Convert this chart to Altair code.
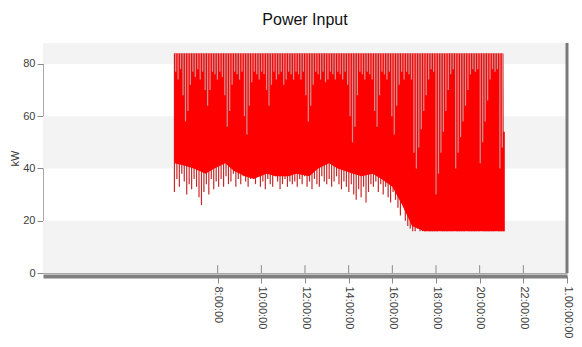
import altair as alt
import pandas as pd

# ---------------- data ----------------
title_text = "Power Input"
y_title = "kW"

# compressor cycles: one vertical stroke per cycle, from trough up to peak
cycle_start_hour = 6.02
cycle_minutes = 6.75
peak_kw = 84.0
last_peak_kw = 54.0
trough_kw = [
    31, 36, 33, 38, 35, 30, 34, 32, 36,
    33, 29, 26, 31, 34, 30, 36, 32, 35, 33,
    36, 33, 37, 34, 35, 38, 33, 36, 34, 37, 35, 33, 36, 38,
    34, 37, 33, 35, 32, 36, 34, 33, 37, 35, 32, 34, 36, 33, 35, 34,
    35, 33, 36, 34, 37, 33, 35, 32, 36, 34, 33, 37, 35, 34, 36, 33, 35, 37,
    34, 32, 35, 33, 31, 34, 30, 28, 32, 29, 33, 27, 31, 34,
    33, 35, 31, 34, 30, 33, 29, 27, 31, 28,
    25, 22, 26, 20, 18, 17, 16,
    16, 17, 16, 16, 16, 17, 16, 16, 16, 16, 17, 16, 16, 16, 16, 16, 17, 16, 16,
    16, 16, 17, 16, 16, 16, 16, 16, 17, 16, 16, 16, 16, 16, 17, 16, 16, 16,
]
# lowest point reached by the light gap between two strokes (top comb)
gap_low_kw = [
    77, 74, 78, 68, 58, 62, 72, 77, 75,
    78, 74, 77, 70, 64, 70, 77, 76, 74, 77,
    75, 68, 56, 62, 72, 77, 76, 74, 77, 60, 53, 64, 73, 77,
    76, 74, 77, 76, 70, 64, 72, 77, 74, 76, 77, 72, 74, 77, 76, 74,
    77, 76, 74, 77, 68, 58, 64, 72, 77, 76, 74, 77, 73, 74, 77, 76, 74, 77,
    76, 74, 77, 72, 60, 50, 56, 68, 77, 76, 74, 77, 76, 74,
    62, 56, 68, 77, 76, 74, 77, 60, 53, 64,
    72, 77, 74, 77, 76, 74, 46,
    40, 48, 55, 62, 68, 74, 78, 77,
    30, 38, 46, 54, 62, 70, 76, 78,
    40, 46, 52, 58, 64, 70, 76, 78, 77, 78,
    42, 50, 58, 66, 74, 78, 77, 78,
    40, 48, 54,
]

# dense (solid) part of the trace: lower / upper edge vertices
env_hours = [6.02, 6.50, 6.90, 7.45, 7.85, 8.35, 8.75, 9.25, 9.65, 10.25,
             10.65, 11.25, 11.60, 12.20, 12.60, 13.10, 13.50, 14.20, 14.60, 15.10,
             15.50, 16.00, 16.45, 16.90, 17.45, 21.09, 21.10, 21.15]
env_low = [42, 41, 40, 38, 40, 42, 39, 37, 36, 38,
           37, 37, 38, 37, 40, 42, 40, 38, 37, 38,
           36, 33, 26, 18, 16, 16, 16, 16]
env_high = [84, 84, 84, 84, 84, 84, 84, 84, 84, 84,
            84, 84, 84, 84, 84, 84, 84, 84, 84, 84,
            84, 84, 84, 84, 84, 84, 54, 54]

band_lo = [0, 40, 80]
band_hi = [20, 60, 88]

x_tick_hours = [8, 10, 12, 14, 16, 18, 20, 22, 24]
x_tick_labels = ["8:00:00", "10:00:00", "12:00:00", "14:00:00", "16:00:00",
                 "18:00:00", "20:00:00", "22:00:00", "1.00:00:00"]
y_tick_values = [0, 5, 10, 15, 20, 25, 30, 35, 40, 45, 50, 55, 60, 65, 70, 75, 80, 85]

# ---------------- tables ----------------
n = len(trough_kw)
hours = [cycle_start_hour + k * cycle_minutes / 60.0 for k in range(n)]
highs = [peak_kw] * (n - 1) + [last_peak_kw]
cycles = pd.DataFrame({"hour": hours, "low": trough_kw, "high": highs})
gaps = pd.DataFrame({
    "hour": [h + cycle_minutes / 120.0 for h in hours],
    "low": gap_low_kw,
    "high": highs,
})
env = pd.DataFrame({"hour": env_hours, "low": env_low, "high": env_high})
bands = pd.DataFrame({"x0": [0] * len(band_lo), "x1": [24] * len(band_lo),
                      "lo": band_lo, "hi": band_hi})
ticks = pd.DataFrame({"hour": x_tick_hours})
edge = pd.DataFrame({"hour": [24]})

FONT = "Liberation Sans"
xscale = alt.Scale(domain=[0, 24], nice=False, zero=False)
yscale = alt.Scale(domain=[0, 88], nice=False)

label_expr = " : ".join(
    f"datum.value == {h} ? '{lab}'" for h, lab in zip(x_tick_hours, x_tick_labels)
) + " : ''"

xaxis = alt.Axis(values=x_tick_hours, labelExpr=label_expr, labelAngle=90,
                 title=None, grid=False, domainColor="#7f7f7f", domainWidth=4,
                 offset=3, tickColor="#8a8a8a", tickSize=7, labelPadding=3,
                 labelFont=FONT, labelFontSize=11, labelColor="#404040")
yaxis = alt.Axis(values=y_tick_values,
                 labelExpr="datum.value % 20 === 0 ? datum.label : ''",
                 tickSize={"condition": {"test": "datum.value % 20 === 0", "value": 6},
                           "value": 3},
                 title=y_title, titleFont=FONT, titleFontSize=11,
                 titleFontWeight="normal", titleColor="#333333", titlePadding=2,
                 grid=False, domain=False, tickColor="#8a8a8a",
                 labelFont=FONT, labelFontSize=11, labelColor="#404040",
                 labelPadding=2)

band_layer = alt.Chart(bands).mark_rect(color="#f3f3f3").encode(
    x=alt.X("x0:Q", scale=xscale, axis=xaxis),
    x2="x1:Q",
    y=alt.Y("lo:Q", scale=yscale, axis=yaxis),
    y2="hi:Q",
)

stroke_layer = alt.Chart(cycles).mark_rule(color="#c22a2a", strokeWidth=1.2).encode(
    x=alt.X("hour:Q", scale=xscale, axis=xaxis),
    y=alt.Y("low:Q", scale=yscale, axis=yaxis),
    y2="high:Q",
)

solid_layer = alt.Chart(env).mark_area(color="#ff0000", opacity=1).encode(
    x=alt.X("hour:Q", scale=xscale, axis=xaxis),
    y=alt.Y("low:Q", scale=yscale, axis=yaxis),
    y2="high:Q",
)

gap_layer = alt.Chart(gaps).mark_rule(color="#cc9595", strokeWidth=1.2).encode(
    x=alt.X("hour:Q", scale=xscale, axis=xaxis),
    y=alt.Y("low:Q", scale=yscale, axis=yaxis),
    y2="high:Q",
)

tick_layer = alt.Chart(ticks).mark_rule(color="#8a8a8a", strokeWidth=1).encode(
    x=alt.X("hour:Q", scale=xscale, axis=xaxis),
    y=alt.datum(0, scale=yscale),
    y2=alt.datum(3),
)

edge_layer = alt.Chart(edge).mark_rule(color="#7a7a7a", strokeWidth=3).encode(
    x=alt.X("hour:Q", scale=xscale, axis=xaxis),
    y=alt.datum(0, scale=yscale),
    y2=alt.datum(88),
)

chart = alt.layer(band_layer, stroke_layer, solid_layer, gap_layer,
                  tick_layer, edge_layer).properties(
    width=524,
    height=230,
    title=alt.TitleParams(title_text, font=FONT, fontSize=16, fontWeight="normal",
                          color="#111111", anchor="middle", offset=14),
    autosize=alt.AutoSizeParams(type="none"),
    padding={"left": 35, "top": 35, "right": 7, "bottom": 66},
    background="white",
).configure_view(stroke="#a8a8a8", strokeWidth=1)

chart.save("out.html", embed_options={"renderer": "svg", "actions": False})
